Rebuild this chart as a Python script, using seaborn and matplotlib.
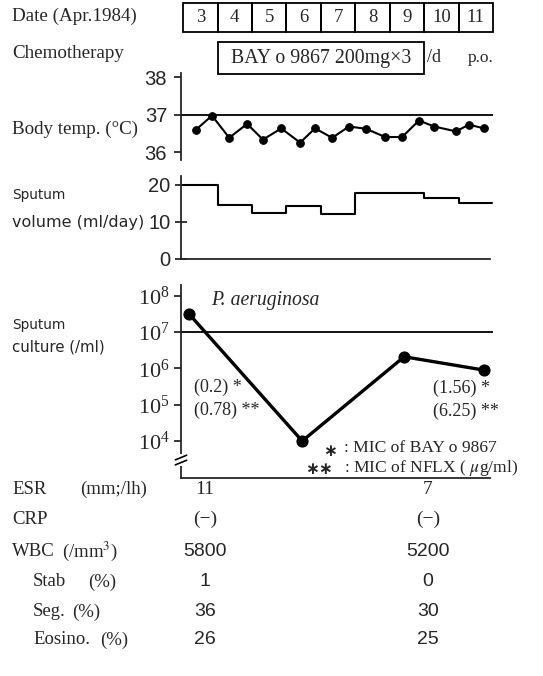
import matplotlib
matplotlib.use("Agg")
import matplotlib.pyplot as plt
import seaborn as sns
import numpy as np
import pandas as pd
from matplotlib.patches import Rectangle
from matplotlib.ticker import NullLocator, FixedLocator, FixedFormatter

# ---------------- data ----------------
dates = [3, 4, 5, 6, 7, 8, 9, 10, 11]
chemo_label = "BAY o 9867 200mg\u00d73"
chemo_days = [4, 9]

temp_times = [2.88, 3.34, 3.84, 4.36, 4.82, 5.35, 5.90, 6.33, 6.83, 7.32,
              7.81, 8.37, 8.86, 9.35, 9.79, 10.43, 10.80, 11.24]
temp_values = [36.6, 36.97, 36.38, 36.75, 36.33, 36.63, 36.25, 36.63, 36.38, 36.68,
               36.62, 36.4, 36.4, 36.84, 36.68, 36.55, 36.73, 36.63]

vol_days = [3, 4, 5, 6, 7, 8, 9, 10, 11]
vol_values = [20, 14.6, 12.3, 14.4, 12.2, 17.9, 17.9, 16.4, 15.2]

cul_days = [2.67, 5.96, 8.92, 11.24]
cul_values = [3.2e7, 1.0e4, 2.1e6, 9.0e5]

mic_first = ["(0.2)", "(0.78)"]
mic_last = ["(1.56)", "(6.25)"]

lab_rows = ["ESR", "CRP", "WBC", "Stab", "Seg.", "Eosino."]
lab_units = ["(mm;/lh)", "", "(/mm$^3$)", "(%)", "(%)", "(%)"]
lab_first = ["11", "(\u2212)", "5800", "1", "36", "26"]
lab_last = ["7", "(\u2212)", "5200", "0", "30", "25"]

# ---------------- style ----------------
sns.set_style("white")
plt.rcParams["font.family"] = ["Liberation Serif", "DejaVu Serif"]
plt.rcParams["mathtext.fontset"] = "stix"

SERIF = ["Liberation Serif", "DejaVu Serif"]
NARROW = ["Liberation Sans Narrow", "Liberation Sans", "DejaVu Sans"]
SANS = ["Liberation Sans", "DejaVu Sans"]
WIDE = ["DejaVu Sans"]

W, H = 543, 676
fig = plt.figure(figsize=(W / 100, H / 100), dpi=100)
fig.patch.set_facecolor("white")


def rect(x0, y0, x1, y1):
    return [x0 / W, 1 - y1 / H, (x1 - x0) / W, (y1 - y0) / H]


def ftext(x, y, s, **kw):
    kw.setdefault("va", "center")
    kw.setdefault("ha", "left")
    fig.text(x / W, 1 - y / H, s, **kw)


XL = (2.44, 11.5)
LW = 1.3

# ---------------- date boxes ----------------
ax_date = fig.add_axes(rect(181, 3, 493, 32))
ax_date.set_xlim(*XL)
ax_date.set_ylim(0, 1)
ax_date.axis("off")
for d in dates:
    ax_date.add_patch(Rectangle((d - 0.5, 0), 1, 1, fill=False, ec="black",
                                lw=LW, clip_on=False))
    ax_date.text(d, 0.5, str(d), ha="center", va="center", fontsize=13.5,
                 family=SERIF)

# ---------------- chemotherapy ----------------
ax_chemo = fig.add_axes(rect(181, 42, 493, 74))
ax_chemo.set_xlim(*XL)
ax_chemo.set_ylim(0, 1)
ax_chemo.axis("off")
c0, c1 = chemo_days[0] - 0.5, chemo_days[1] + 0.5
ax_chemo.add_patch(Rectangle((c0, 0), c1 - c0, 1, fill=False, ec="black",
                             lw=LW, clip_on=False))
ax_chemo.text((c0 + c1) / 2, 0.5, chemo_label, ha="center", va="center",
              fontsize=14.3, family=SERIF)
ax_chemo.text(c1 + 0.08, 0.5, "/d", ha="left", va="center",
              fontsize=13, family=SERIF)
ax_chemo.text(c1 + 1.28, 0.5, "p.o.", ha="left", va="center",
              fontsize=12.5, family=SERIF)

# ---------------- body temperature ----------------
ax_t = fig.add_axes(rect(181, 73, 493, 160))
ax_t.set_facecolor("none")
sns.lineplot(x=temp_times, y=temp_values, ax=ax_t, color="black", lw=1.5,
             marker="o", markersize=5.5, markeredgecolor="black")
ax_t.axhline(37, color="black", lw=LW)
ax_t.set_xlim(*XL)
ax_t.set_ylim(35.787, 38.107)
ax_t.set_yticks([36, 37, 38])
ax_t.set_xticks([])
for s in ["top", "right", "bottom"]:
    ax_t.spines[s].set_visible(False)
ax_t.spines["left"].set_linewidth(LW)
ax_t.tick_params(axis="y", direction="out", length=5, width=LW, pad=5,
                 labelsize=14.5, left=True)
for lab in ax_t.get_yticklabels():
    lab.set_family(NARROW)

# ---------------- sputum volume ----------------
ax_v = fig.add_axes(rect(181, 176, 493, 259))
ax_v.set_facecolor("none")
edges = [d - 0.5 for d in vol_days] + [vol_days[-1] + 0.47]
vals = vol_values + [vol_values[-1]]
sns.lineplot(x=edges, y=vals, ax=ax_v, color="black", lw=1.5,
             drawstyle="steps-post")
ax_v.set_xlim(*XL)
ax_v.set_ylim(0, 22.43)
ax_v.set_yticks([0, 10, 20])
ax_v.set_xticks([])
for s in ["top", "right"]:
    ax_v.spines[s].set_visible(False)
ax_v.spines["left"].set_linewidth(LW)
ax_v.spines["bottom"].set_linewidth(LW)
ax_v.spines["bottom"].set_bounds(XL[0], 11.41)
ax_v.tick_params(axis="y", direction="inout", length=9, width=LW, pad=3,
                 labelsize=14.5, left=True)
for lab in ax_v.get_yticklabels():
    lab.set_family(NARROW)

# ---------------- sputum culture ----------------
ax_c = fig.add_axes(rect(181, 285, 493, 478))
ax_c.set_facecolor("none")
sns.lineplot(x=cul_days, y=cul_values, ax=ax_c, color="black", lw=2.4,
             marker="o", markersize=8, markeredgecolor="black")
ax_c.set_yscale("log")
ax_c.axhline(1e7, color="black", lw=LW)
ax_c.set_xlim(*XL)
ax_c.set_ylim(10 ** 2.98, 10 ** 8.30)
ticks = [1e4, 1e5, 1e6, 1e7, 1e8]
ax_c.yaxis.set_major_locator(FixedLocator(ticks))
ax_c.yaxis.set_major_formatter(FixedFormatter(
    [r"$\mathregular{10^{%d}}$" % int(np.log10(t)) for t in ticks]))
ax_c.yaxis.set_minor_locator(NullLocator())
ax_c.set_xticks([])
for s in ["top", "right"]:
    ax_c.spines[s].set_visible(False)
ax_c.spines["left"].set_linewidth(LW)
ax_c.spines["bottom"].set_linewidth(LW)
ax_c.spines["bottom"].set_bounds(XL[0], 11.41)
ax_c.tick_params(axis="y", direction="out", length=5, width=LW, pad=3,
                 labelsize=16, left=True)
ax_c.set_xlabel("")
ax_c.set_ylabel("")

# axis break on the culture axis
tr = ax_c.transAxes
bx, by = 0.0, 0.093
ax_c.plot([bx, bx], [by - 0.02, by + 0.02], color="white", lw=3,
          transform=tr, clip_on=False, zorder=5)
for off in (-0.013, 0.013):
    ax_c.plot([bx - 0.018, bx + 0.018], [by + off - 0.012, by + off + 0.012],
              color="black", lw=1.2, transform=tr, clip_on=False, zorder=6)

# annotations in culture panel
ax_c.text(3.3, 10 ** 7.88, "P. aeruginosa", fontsize=14.2, style="italic",
          family=SERIF, va="center", ha="left")
ftext(194, 387, mic_first[0] + " *", fontsize=13, family=SERIF)
ftext(194, 410, mic_first[1] + " **", fontsize=13, family=SERIF)
ftext(433, 388, mic_last[0] + " *", fontsize=13, family=SERIF)
ftext(433, 411, mic_last[1] + " **", fontsize=13, family=SERIF)
ftext(337, 451, "\u2217", fontsize=12, family=["DejaVu Sans"], ha="right",
      fontweight="bold")
ftext(305, 469, "\u2217\u2217", fontsize=12, family=["DejaVu Sans"],
      fontweight="bold")
ftext(344, 448, ": MIC of BAY o 9867", fontsize=12.6, family=SERIF)
ftext(344, 468, r": MIC of NFLX ( $\mu$g/ml)", fontsize=12.6, family=SERIF)

# ---------------- left labels ----------------
ftext(12, 16, "Date (Apr.1984)", fontsize=13.7, family=SERIF)
ftext(12, 53, "Chemotherapy", fontsize=13.7, family=SERIF)
ftext(12, 129, "Body temp. (\u00b0C)", fontsize=13.7, family=SERIF)
ftext(12, 195, "Sputum", fontsize=9.8, family=WIDE)
ftext(12, 222, "volume (ml/day)", fontsize=11.5, family=WIDE)
ftext(12, 325, "Sputum", fontsize=9.8, family=WIDE)
ftext(12, 347, "culture (/ml)", fontsize=10.8, family=WIDE)

# ---------------- lab table ----------------
row_y = [489, 519, 551, 582, 612, 640]
label_x = [12, 12, 12, 33, 33, 33]
unit_x = [80, 0, 62, 88, 72, 100]
for i in range(len(lab_rows)):
    ftext(label_x[i], row_y[i], lab_rows[i], fontsize=13.5, family=SERIF)
    if lab_units[i]:
        ftext(unit_x[i], row_y[i], lab_units[i], fontsize=13.5, family=SERIF)
    fam = SERIF if i < 2 else SANS
    ftext(205, row_y[i], lab_first[i], fontsize=14, family=fam, ha="center")
    ftext(428, row_y[i], lab_last[i], fontsize=14, family=fam, ha="center")

fig.savefig("out.png", dpi=100, facecolor="white")
